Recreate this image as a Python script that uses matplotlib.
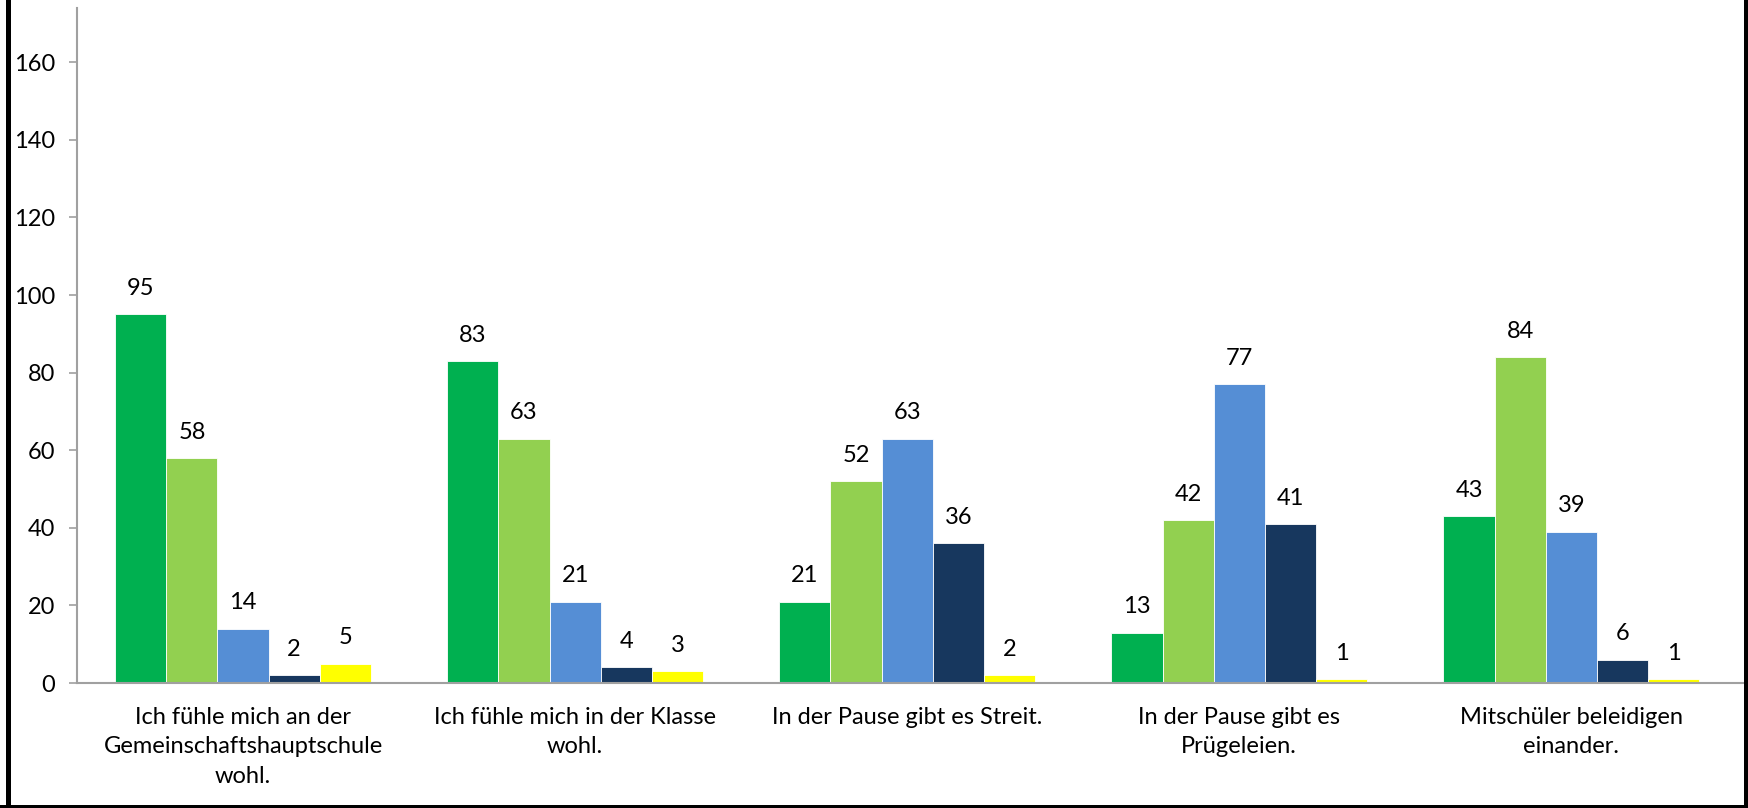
import matplotlib
matplotlib.use("Agg")
import matplotlib.pyplot as plt
from matplotlib.lines import Line2D
import numpy as np

plt.rcParams['font.family'] = ['Lato', 'DejaVu Sans']

# Kategorien und Werte
categories = [
    "Ich fühle mich an der\nGemeinschaftshauptschule\nwohl.",
    "Ich fühle mich in der Klasse\nwohl.",
    "In der Pause gibt es Streit.",
    "In der Pause gibt es\nPrügeleien.",
    "Mitschüler beleidigen\neinander.",
]
s1 = [95, 83, 21, 13, 43]
s2 = [58, 63, 52, 42, 84]
s3 = [14, 21, 63, 77, 39]
s4 = [2, 4, 36, 41, 6]
s5 = [5, 3, 2, 1, 1]
series = [s1, s2, s3, s4, s5]
colors = ["#00B050", "#92D050", "#558ED5", "#17375E", "#FFFF00"]
y_ticks = [0, 20, 40, 60, 80, 100, 120, 140, 160]

W, H = 1748, 808
fig = plt.figure(figsize=(W / 100, H / 100), dpi=100)
ax = fig.add_axes([77 / W, 1 - 683 / H, (1744 - 77) / W, (683 - 8) / H])

x = np.arange(len(categories))
bw = 0.154
for i, (vals, c) in enumerate(zip(series, colors)):
    pos = x + (i - 2) * bw
    ax.bar(pos, vals, width=bw, color=c, edgecolor="white", linewidth=0.6)
    for px, v in zip(pos, vals):
        ax.annotate(str(v), (px, v), xytext=(0, 11), textcoords="offset points",
                    ha="center", va="bottom", fontsize=17)

ax.set_xlim(-0.5, 4.52)
ax.set_ylim(0, 174)
ax.set_yticks(y_ticks)
ax.set_xticks(x)
ax.set_xticklabels(categories, fontsize=17, linespacing=1.5)
ax.tick_params(axis="x", length=0, pad=17)
ax.tick_params(axis="y", length=6, width=1.2, color="#A0A0A0", pad=10, labelsize=17)
for s in ["top", "right"]:
    ax.spines[s].set_visible(False)
for s in ["left", "bottom"]:
    ax.spines[s].set_color("#A0A0A0")
    ax.spines[s].set_linewidth(1.5)

# schwarzer Rahmen
lw = 3.6
fig.add_artist(Line2D([7.5 / W, 7.5 / W], [0, 1], color="black", lw=lw, transform=fig.transFigure))
fig.add_artist(Line2D([1746 / W, 1746 / W], [0, 1], color="black", lw=lw, transform=fig.transFigure))
fig.add_artist(Line2D([0, 1], [1.5 / H, 1.5 / H], color="black", lw=lw, transform=fig.transFigure))

fig.savefig("out.png", dpi=100)
